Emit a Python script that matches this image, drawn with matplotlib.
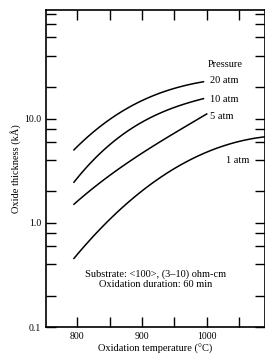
import numpy as np
import matplotlib
matplotlib.use('Agg')
import matplotlib.pyplot as plt
from matplotlib.ticker import FixedLocator, NullFormatter

plt.rcParams['font.family'] = ['Liberation Serif', 'DejaVu Serif']

# curves (temperature in C, thickness in kA)
t_20 = [795, 850, 900, 950, 995]
v_20 = [5.0, 9.8, 14.8, 19.5, 22.5]
t_10 = [795, 850, 900, 950, 995]
v_10 = [2.45, 5.6, 9.2, 12.8, 15.5]
t_5 = [795, 850, 900, 950, 1000]
v_5 = [1.5, 2.9, 4.5, 7.4, 11.0]
t_1 = [795, 830, 885, 940, 990, 1040, 1090]
v_1 = [0.44, 0.86, 1.66, 2.9, 4.6, 5.9, 6.6]

labels = ['20 atm', '10 atm', '5 atm']

fig = plt.figure(figsize=(2.65, 3.54), dpi=100)
ax = fig.add_axes([0.174, 0.076, 0.826, 0.896])

for t, v in [(t_20, v_20), (t_10, v_10), (t_5, v_5), (t_1, v_1)]:
    tt = np.linspace(t[0], t[-1], 60)
    # smooth in log space
    coef = np.polyfit(t, np.log10(v), 3)
    ax.plot(tt, 10 ** np.polyval(coef, tt), color='black', lw=1.1)

ax.set_yscale('log')
ax.set_xlim(752, 1090)
ax.set_ylim(0.1, 110)

ax.set_yticks([0.1, 1, 10, 100])
ax.set_yticklabels(['0.1', '1.0', '10.0', ''])
minors = [m * d for d in [0.1, 1, 10] for m in [2, 4, 6, 8]]
ax.yaxis.set_minor_locator(FixedLocator(minors))
ax.yaxis.set_minor_formatter(NullFormatter())

ax.set_xticks([800, 900, 1000])
ax.xaxis.set_minor_locator(FixedLocator([850, 950, 1050]))

ax.tick_params(which='both', direction='in', top=True, right=True,
               labelsize=7, length=7, width=1)
for s in ax.spines.values():
    s.set_linewidth(1.2)

ax.set_xlabel('Oxidation temperature (°C)', fontsize=7.5, labelpad=2)
ax.set_ylabel('Oxide thickness (kÅ)', fontsize=7.5, labelpad=2)

ax.text(1002, 33, 'Pressure', fontsize=7.5, va='center')
ax.text(1005, 23, labels[0], fontsize=7.5, va='center')
ax.text(1005, 15.3, labels[1], fontsize=7.5, va='center')
ax.text(1005, 10.5, labels[2], fontsize=7.5, va='center')
ax.text(1030, 4.0, '1 atm', fontsize=7.5, va='center')

ax.text(921, 0.29, 'Substrate: <100>, (3–10) ohm-cm\nOxidation duration: 60 min',
        fontsize=7.5, ha='center', va='center', linespacing=1.1)

fig.savefig('out.png', dpi=100)
